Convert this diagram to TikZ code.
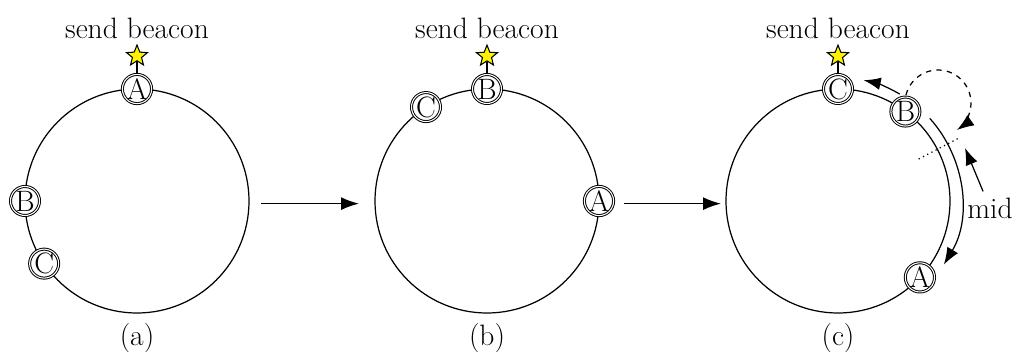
\documentclass[tikz,border=0pt]{standalone}
\usepackage{tikz}
\usetikzlibrary{arrows.meta, positioning, shapes.geometric, calc}

\begin{document}
\begin{tikzpicture}[
    font=\fontsize{16.8}{20}\selectfont,
    ring/.style={draw, circle, minimum size=4.48cm, inner sep=0pt, outer sep=0pt, line width=0.7pt},
    pt/.style={draw, circle, double, double distance=0.6pt, line width=0.55pt,
      fill=white, minimum size=0.58cm, inner sep=0pt},
    beacon/.style={draw, star, star points=5, star point ratio=2.3, fill=yellow,
      minimum size=0.44cm, inner sep=0pt, line width=0.6pt},
    arr/.style={-{Latex[length=3.6mm, width=2.6mm]}, line width=0.8pt},
    sarr/.style={-{Latex[length=3.4mm, width=2.5mm]}, line width=0.7pt}
  ]
  \useasboundingbox (0,0) rectangle (20.28,7.04);

  % Rings
  \node[ring] (ringa) at (2.74,3.02) {};
  \node[ring] (ringb) at (9.74,3.02) {};
  \node[ring] (ringc) at (16.76,3.02) {};

  % (a)
  \node[pt] (a-A) at (ringa.90) {A};
  \node[pt] (a-B) at (ringa.180) {B};
  \node[pt] (a-C) at (ringa.214) {C};
  \node[beacon, above=0.25cm of a-A] (a-star) {};
  \draw[line width=0.6pt] (a-A) -- (a-star);
  \node[above=-1pt of a-star] (a-text) {send beacon};
  \node (cap-a) at (2.74,0.28) {(a)};

  % (b)
  \node[pt] (b-B) at (ringb.90) {B};
  \node[pt] (b-C) at (ringb.123) {C};
  \node[pt] (b-A) at (ringb.0) {A};
  \node[beacon, above=0.25cm of b-B] (b-star) {};
  \draw[line width=0.6pt] (b-B) -- (b-star);
  \node[above=-1pt of b-star] (b-text) {send beacon};
  \node (cap-b) at (9.74,0.28) {(b)};

  % (c)
  \node[pt] (c-C) at (ringc.90) {C};
  \node[pt] (c-B) at (ringc.53) {B};
  \node[pt] (c-A) at (ringc.-43) {A};
  \node[beacon, above=0.25cm of c-C] (c-star) {};
  \draw[line width=0.6pt] (c-C) -- (c-star);
  \node[above=-1pt of c-star] (c-text) {send beacon};
  \node (cap-c) at (16.76,0.28) {(c)};

  % Steps
  \draw[arr, shorten <=0.24cm, shorten >=0.32cm] ([yshift=-1.5pt]ringa.east) -- ([yshift=-1.5pt]ringb.west);
  \draw[arr, shorten <=0.5cm, shorten >=0.1cm] ([yshift=-1.5pt]ringb.east) -- ([yshift=-1.5pt]ringc.west);

  % Moves in (c)
  \draw[sarr] ([shift={(60:2.47)}]ringc.center) arc[start angle=60, end angle=78, radius=2.47];
  \draw[sarr] ([shift={(42:2.47)}]ringc.center) arc[start angle=42, end angle=-31, radius=2.47];
  \draw[dotted, line width=0.7pt] ([shift={(27.5:1.82)}]ringc.center) -- ([shift={(27.5:2.72)}]ringc.center);
  \coordinate (loop) at (18.76,4.98);
  \draw[sarr, dashed] ([shift={(166:0.66)}]loop) arc[start angle=166, end angle=-55, radius=0.66];
  \node (mid) at (19.8,2.88) {mid};
  \coordinate (mid-pt) at (19.3,4.08);
  \draw[sarr] (mid) -- (mid-pt);
\end{tikzpicture}
\end{document}
